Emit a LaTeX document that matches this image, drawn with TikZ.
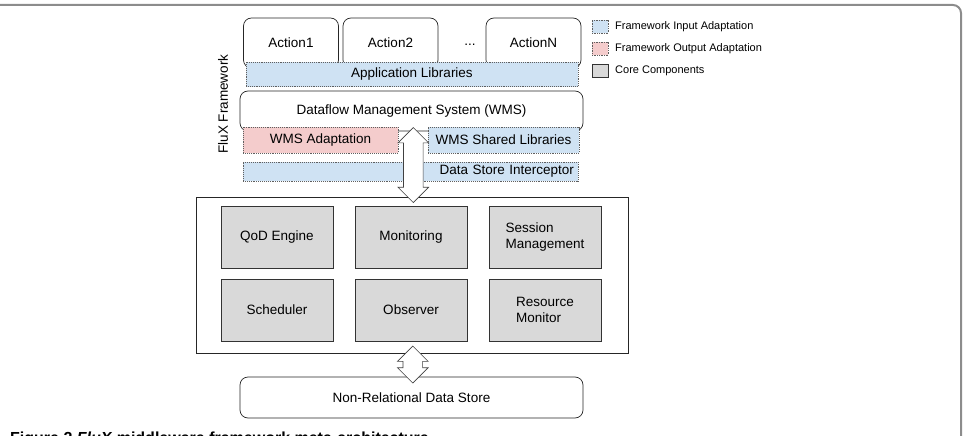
\documentclass[tikz,border=0pt]{standalone}
\usepackage{fontspec}
\setmainfont{Liberation Sans}
\usetikzlibrary{calc,shapes.arrows}

\definecolor{inblue}{HTML}{CFE2F3}
\definecolor{outpink}{HTML}{F4CCCC}
\definecolor{coregray}{HTML}{D9D9D9}
\definecolor{dotgray}{HTML}{5F5F5F}

\tikzset{
	lbl/.style={font=\fontsize{13.5}{16}\selectfont, inner sep=0pt},
	actionbox/.style={lbl, draw=black!85, fill=white, rounded corners=8pt, line width=0.7pt, minimum width=95pt, minimum height=50pt},
	wmsbox/.style={lbl, draw=black!85, fill=white, rounded corners=8pt, line width=0.7pt, minimum width=343pt},
	inbox/.style={lbl, draw=dotgray, densely dotted, line width=0.9pt, fill=inblue, minimum height=24pt},
	outbox/.style={lbl, draw=dotgray, densely dotted, line width=0.9pt, fill=outpink, minimum height=24pt},
	corebox/.style={lbl, draw=black!80, fill=coregray, line width=0.7pt, minimum width=112pt, minimum height=62pt},
	dblarrow/.style={draw=black!75, fill=white, line width=0.7pt, double arrow, double arrow head extend=5.5pt, inner xsep=0pt, inner ysep=9.5pt, rotate=90},
	keybox/.style={minimum width=16pt, minimum height=13pt, inner sep=0pt, line width=0.7pt},
	keytext/.style={font=\fontsize{11}{13}\selectfont, anchor=west, inner sep=0pt}
}

\begin{document}
\begin{tikzpicture}[x=1pt,y=-1pt]
		%%%%% START %%%%%
		\useasboundingbox (0,0) rectangle (966,436);
		
		% frame of the figure page
		\draw[black!45, line width=2pt, rounded corners=8pt] (-10,5) -- (961,5) -- (961,450);
		
		% actions on top of the framework
		\node[actionbox] (act1) at (291,43) {Action1};
		\node[actionbox] (act2) at (390.5,43) {Action2};
		\node[actionbox] (actN) at (533.5,43) {ActionN};
		\node[lbl] (dots) at (470,45) {...};
		
		\node[inbox, minimum width=332pt] (applib) at (412,74.5) {Application Libraries};
		
		\node[wmsbox, minimum height=40pt] (wms) at (411.5,111) {Dataflow Management System (WMS)};
		\node[outbox, minimum width=155pt, minimum height=26pt] (wmsadapt) at (320.5,140) {WMS Adaptation};
		\node[inbox, minimum width=151pt, minimum height=26pt] (wmsshared) at (503.5,140) {WMS Shared Libraries};
		\node[inbox, minimum width=335pt, minimum height=19pt, text width=327pt, align=right] (interc) at (410.5,171.5) {Data Store Interceptor};
		
		\node[lbl, rotate=90] (flux) at (223,104) {FluX Framework};
		
		% core components
		\node[draw=black!85, line width=0.7pt, minimum width=432pt, minimum height=156pt, inner sep=0pt] (core) at (412,275) {};
		
		\node[corebox] (qod) at (277,237) {QoD Engine};
		\node[corebox] (monit) at (411,237) {Monitoring};
		\node[corebox, align=left] (sess) at (545,237) {Session\\Management};
		\node[corebox] (sched) at (277,310) {Scheduler};
		\node[corebox] (obs) at (411,310) {Observer};
		\node[corebox, align=left] (resmon) at (545,310) {Resource\\Monitor};
		
		\node[wmsbox, minimum height=41pt] (store) at (411.5,397.5) {Non-Relational Data Store};
		
		% double arrows between the layers
		\node[dblarrow, minimum height=75pt] (arrA) at ($(wms.south)!0.5!(core.north)+(1.5,1)$) {};
		\node[dblarrow, minimum height=37pt] (arrB) at ($(core.south)!0.5!(store.north)+(1,-0.5)$) {};
		
		% legend
		\node[keybox, draw=dotgray, densely dotted, fill=inblue] (keyin) at (600,26.5) {};
		\node[keytext] (keyintxt) at (615,26.5) {Framework Input Adaptation};
		\node[keybox, draw=dotgray, densely dotted, fill=outpink] (keyout) at (600,48.5) {};
		\node[keytext] (keyouttxt) at (615,48.5) {Framework Output Adaptation};
		\node[keybox, draw=black!80, fill=coregray] (keycore) at (600,71) {};
		\node[keytext] (keycoretxt) at (615,71) {Core Components};
		
		% caption, cut by the lower edge
		\node[font=\fontsize{16}{19}\selectfont\bfseries, anchor=base west, inner sep=0pt] (capt) at (10,443) {Figure 2 \textit{FluX} middleware framework meta-architecture};
		%%%%% END %%%%%
\end{tikzpicture}
\end{document}
